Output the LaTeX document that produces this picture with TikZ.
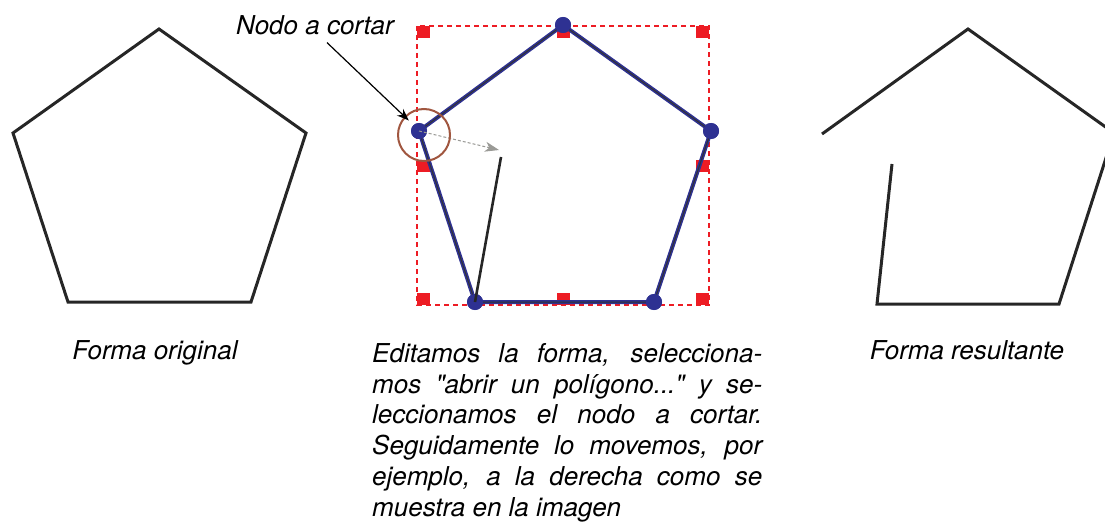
\documentclass[tikz,border=0pt]{standalone}
\usepackage{fontspec}
\setmainfont{TeX Gyre Heros}
\usepackage{xcolor}
\usetikzlibrary{arrows.meta,positioning}
\definecolor{selRojo}{HTML}{ED1C24}
\definecolor{selAzul}{HTML}{2E3192}
\definecolor{selMarron}{HTML}{A0563F}
\definecolor{selGris}{HTML}{9A9A96}

\begin{document}
\begin{tikzpicture}[x=1pt, y=-1pt,
    forma/.style={draw=black!85, line width=3pt, line join=miter},
    editada/.style={draw=selAzul, line width=4pt, line join=round},
    nucleo/.style={draw=black!80, line width=1pt},
    punto/.style={circle, fill=selAzul, inner sep=0pt, minimum size=16pt},
    marca/.style={fill=selRojo, inner sep=0pt, minimum width=13pt, minimum height=12pt},
    caja/.style={draw=selRojo, line width=1.6pt, dash pattern=on 5pt off 4pt},
    txt/.style={font=\fontsize{26}{30.8}\selectfont\itshape, inner sep=0pt},
    flecha/.style={-{Stealth[length=12pt, width=9pt]}, draw=black, line width=1.2pt},
    mover/.style={-{Stealth[length=14pt, width=10pt, inset=4pt]}, draw=selGris,
                  line width=1pt, dash pattern=on 3pt off 2pt}]

  \useasboundingbox (0,0) rectangle (1105,524);
  \clip (0,0) rectangle (1105,524);

  % forma original
  \coordinate (o1) at (159,29);
  \coordinate (o2) at (306,133);
  \coordinate (o3) at (251,302);
  \coordinate (o4) at (68,302);
  \coordinate (o5) at (13,133);
  \draw[forma] (o1) -- (o2) -- (o3) -- (o4) -- (o5) -- cycle;
  \node[txt, anchor=base] (orig) at (155,359) {Forma original};

  % forma en edicion
  \draw[caja] (417,26) rectangle (709,305);
  \node[marca, anchor=north west] (m1) at (417,26) {};
  \node[marca, anchor=north] (m2) at (563,26) {};
  \node[marca, anchor=north east] (m3) at (709,26) {};
  \node[marca, anchor=west] (m4) at (417,166) {};
  \node[marca, anchor=east] (m5) at (709,166) {};
  \node[marca, anchor=south west] (m6) at (417,305) {};
  \node[marca, anchor=south] (m7) at (563,305) {};
  \node[marca, anchor=south east] (m8) at (709,305) {};

  \node[punto] (p1) at (563,25) {};
  \node[punto] (p2) at (711,131) {};
  \node[punto] (p3) at (654,302) {};
  \node[punto] (p4) at (475,302) {};
  \node[punto] (p5) at (419,131) {};
  \draw[editada] (p5.center) -- (p1.center) -- (p2.center) -- (p3.center)
                 -- (p4.center) -- (p5.center);
  \draw[nucleo] (p5.center) -- (p1.center) -- (p2.center) -- (p3.center)
                -- (p4.center) -- (p5.center);
  \foreach \p in {p1,p2,p3,p4,p5}
    \fill[selAzul] (\p) circle (8);

  \coordinate (nuevo) at (501,157);
  \coordinate (destino) at (499,150);
  \draw[forma, line width=2.6pt] (p4.center) -- (nuevo);
  \draw[mover] (p5.center) -- (destino);

  \node[circle, draw=selMarron, line width=2pt, minimum size=52pt, inner sep=0pt] (sel) at (424,135) {};
  \node[txt, anchor=base] (lbl) at (315,35) {Nodo a cortar};
  \draw[flecha, shorten >=-6pt] ([xshift=12pt, yshift=-7pt]lbl.south) -- (sel);

  \node[txt, anchor=north west, text width=390pt, align=justify] (desc) at (372,343)
    {Editamos la forma, selecciona-\linebreak mos \textquotedbl abrir un polígono...\textquotedbl\ y se-\linebreak
     leccionamos el nodo a cortar.\linebreak Seguidamente lo movemos, por\linebreak
     ejemplo, a la derecha como se\linebreak muestra en la imagen};

  % forma resultante
  \coordinate (r1) at (968,29);
  \coordinate (r2) at (1114,133);
  \coordinate (r3) at (1059,304);
  \coordinate (r4) at (877,304);
  \coordinate (r5) at (892,164);
  \coordinate (r6) at (822,134);
  \draw[forma] (r6) -- (r1) -- (r2) -- (r3) -- (r4) -- (r5);
  \node[txt, anchor=base] (res) at (967,359) {Forma resultante};
\end{tikzpicture}
\end{document}
